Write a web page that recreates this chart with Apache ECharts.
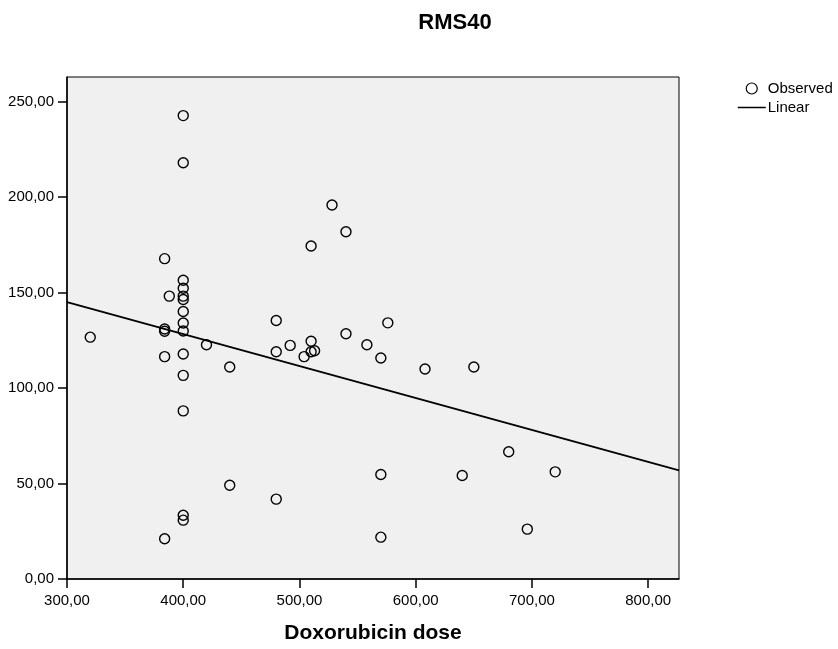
<!DOCTYPE html>
<html>
<head>
<meta charset="utf-8">
<script src="https://cdn.jsdelivr.net/npm/echarts@6/dist/echarts.min.js"></script>
<style>html,body{margin:0;padding:0;background:#fff;}#c{width:838px;height:649px;}</style>
</head>
<body>
<div id="c"></div>
<script>
const dose = [400,400,528,540,510,384,400,400,388,400,400,400,400,400,384,384,320,420,384,400,400,400,440,480,480,492,510,504,510,513,540,576,558,570,608,650,440,480,400,400,384,570,640,680,720,570,696];
const rms = [242.6,217.9,195.8,181.8,174.3,167.7,156.4,152.2,148.1,148.1,146.3,140.0,134.0,129.8,130.9,129.7,126.6,122.6,116.4,117.8,106.6,88.0,111.0,135.3,119.0,122.3,124.5,116.4,119.0,119.5,128.4,134.1,122.6,115.7,109.9,111.0,49.1,41.8,33.4,30.8,21.1,54.7,54.2,66.6,56.1,21.9,26.1];
const fitX = [300, 826.5];
const fitY = [144.9, 56.9];
const xTicks = [300,400,500,600,700,800];
const yTicks = [0,50,100,150,200,250];

const fmt = v => v.toFixed(2).replace('.', ',');
const font = 'Arial, "Liberation Sans", Helvetica, sans-serif';
const chart = echarts.init(document.getElementById('c'), null, {renderer:'canvas'});
chart.setOption({
  animation: false,
  backgroundColor: '#ffffff',
  title: {
    text: 'RMS40', left: 450, top: 7, textAlign: 'center',
    textStyle: {fontSize: 22, fontWeight: 'bold', color: '#000', fontFamily: font}
  },
  legend: {
    orient: 'vertical', left: 732, top: 76, itemWidth: 28, itemHeight: 11, itemGap: 4,
    textStyle: {fontSize: 15, color: '#000', fontFamily: font, padding: [0,0,0,-3]},
    data: [
      {name: 'Observed', itemStyle: {color: 'rgba(0,0,0,0)', borderColor: '#000', borderWidth: 1.2}},
      {name: 'Linear', itemStyle: {opacity: 0}, lineStyle: {color: '#000', width: 1.5}}
    ]
  },
  grid: {
    left: 67, right: 159, top: 77, bottom: 68,
    show: true, backgroundColor: '#f0f0f0', borderColor: '#000', borderWidth: 1
  },
  xAxis: {
    type: 'value', min: 300, max: 826.5, interval: 100,
    name: 'Doxorubicin dose', nameLocation: 'middle', nameGap: 44,
    nameTextStyle: {fontSize: 21, fontWeight: 'bold', color: '#000', fontFamily: font},
    axisLine: {show: true, lineStyle: {color: '#000', width: 1.5}},
    axisTick: {show: true, length: 9, lineStyle: {color: '#000', width: 1.5}, customValues: xTicks},
    axisLabel: {fontSize: 15, color: '#000', fontFamily: font, margin: 14, formatter: fmt, customValues: xTicks},
    splitLine: {show: false}
  },
  yAxis: {
    type: 'value', min: 0, max: 262.8, interval: 50,
    axisLine: {show: true, lineStyle: {color: '#000', width: 1.5}},
    axisTick: {show: true, length: 9, lineStyle: {color: '#000', width: 1.5}, customValues: yTicks},
    axisLabel: {fontSize: 15, color: '#000', fontFamily: font, margin: 13, formatter: fmt, customValues: yTicks, padding: [3,0,0,0]},
    splitLine: {show: false}
  },
  series: [
    {
      name: 'Observed', type: 'scatter', symbol: 'circle', symbolSize: 10,
      itemStyle: {color: 'rgba(0,0,0,0)', borderColor: '#000', borderWidth: 1.4, opacity: 1},
      data: dose.map((d, i) => [d, rms[i]])
    },
    {
      name: 'Linear', type: 'line', symbol: 'none', showSymbol: false,
      lineStyle: {color: '#000', width: 1.8},
      itemStyle: {color: '#000'},
      data: fitX.map((d, i) => [d, fitY[i]])
    }
  ]
});
</script>
</body>
</html>
